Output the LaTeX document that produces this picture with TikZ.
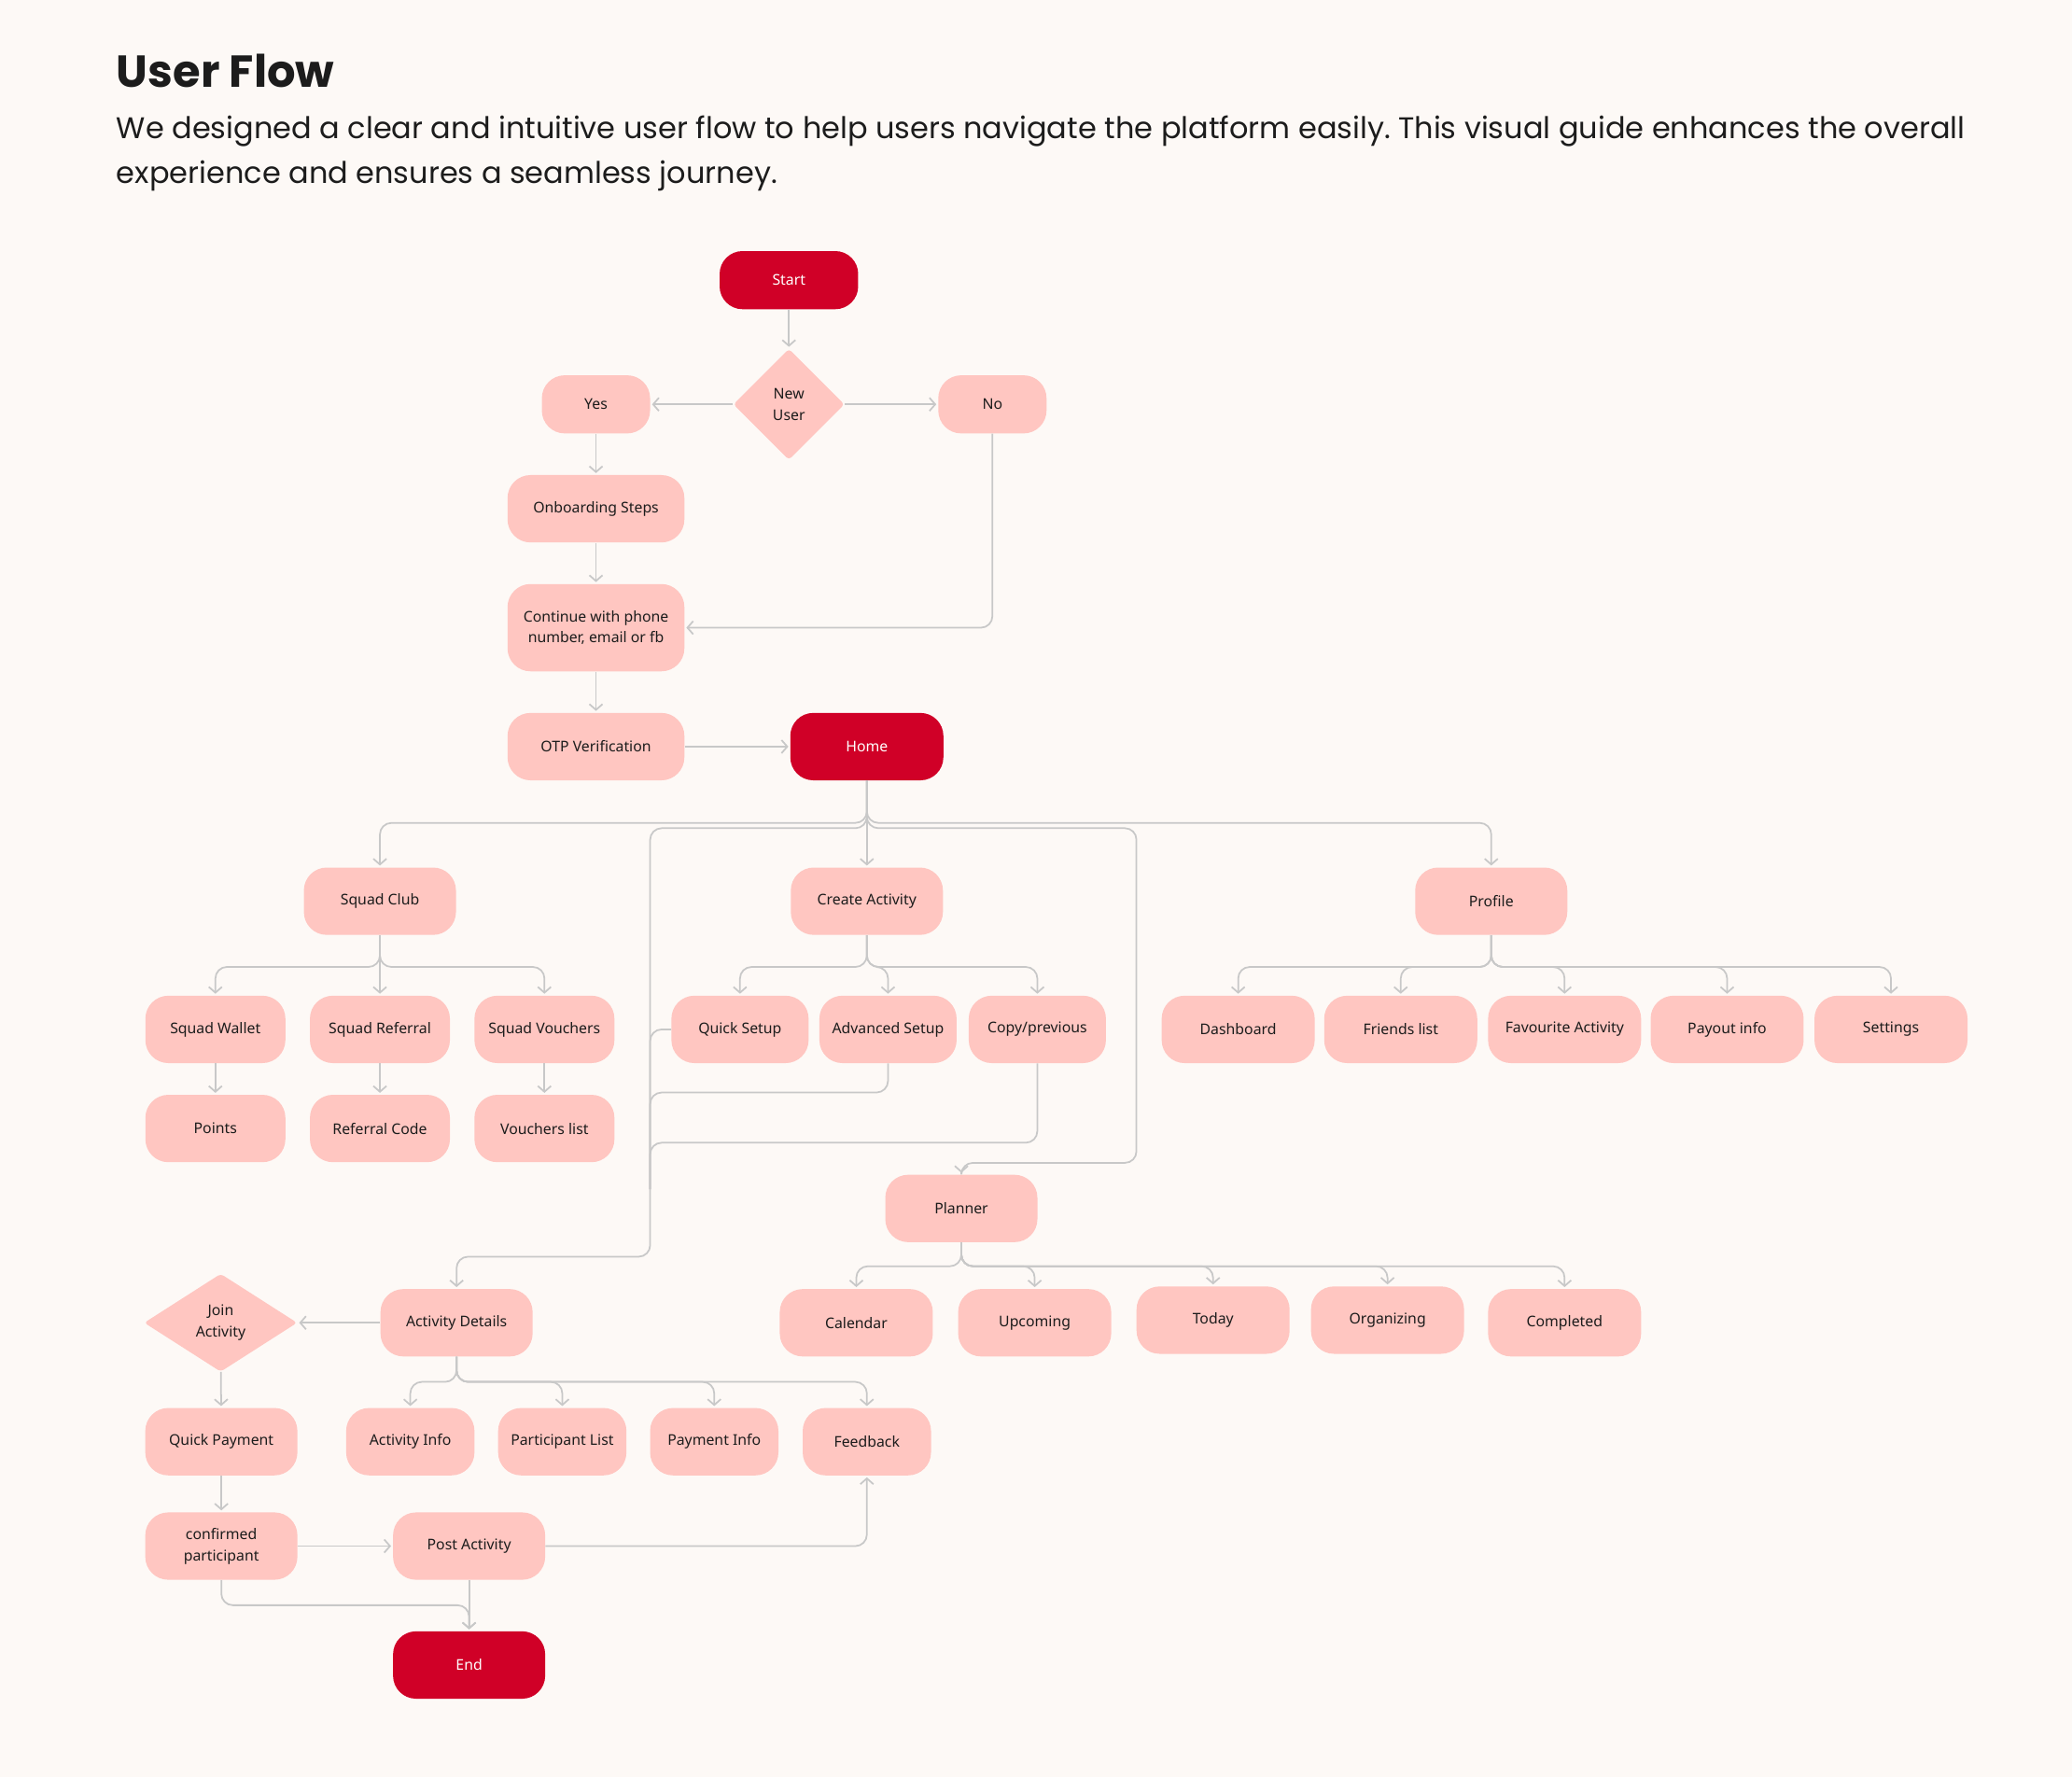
\documentclass[tikz,border=0pt]{standalone}
\usepackage{fontspec}
\setsansfont{Noto Sans}
\newfontfamily\headfont{Poppins}
\usetikzlibrary{shapes.geometric, arrows.meta, positioning}

\definecolor{bgcream}{HTML}{FDF9F6}
\definecolor{flowred}{HTML}{D00027}
\definecolor{flowpink}{HTML}{FFC6C1}
\definecolor{flowline}{HTML}{C8C8C8}
\definecolor{flowtext}{HTML}{1C1C1C}

\tikzset{
  stepnode/.style={rectangle, rounded corners=14pt, fill=flowpink, text=flowtext,
    font=\sffamily\fontsize{9}{13}\selectfont, minimum width=3.26cm,
    minimum height=1.444cm, inner sep=2pt, align=center},
  keynode/.style={stepnode, fill=flowred, text=white},
  choice/.style={diamond, rounded corners=2pt, fill=flowpink, text=flowtext,
    font=\sffamily\fontsize{9}{13}\selectfont, inner sep=0pt, align=center},
  plain/.style={draw=flowline, line width=1pt, rounded corners=7pt},
  link/.style={plain, -{Straight Barb[length=3.5pt,width=8pt]}, shorten >=1pt}
}

\begin{document}
\frenchspacing
\begin{tikzpicture}[x=0.028316cm, y=-0.028316cm]
    \fill[bgcream] (0,0) rectangle (1568,1345);

    % heading
    \node[anchor=base west, inner sep=0, text=flowtext, font=\headfont\bfseries\fontsize{27.3}{30}\selectfont]
        (title) at (88,66) {User Flow};
    \node[anchor=base west, inner sep=0, text=flowtext, font=\headfont\fontsize{18.2}{20}\selectfont]
        (intro1) at (88,105) {We designed a clear and intuitive user flow to help users navigate the platform easily. This visual guide enhances the overall};
    \node[anchor=base west, inner sep=0, text=flowtext, font=\headfont\fontsize{18.2}{20}\selectfont]
        (intro2) at (88,139) {experience and ensures a seamless journey.};

    % sign in
    \node[keynode, minimum width=2.97cm, minimum height=1.246cm] (start) at (597,212) {Start};
    \node[choice, minimum width=2.38cm, minimum height=2.38cm] (newuser) at (597,306) {New\\User};
    \node[stepnode, minimum width=2.32cm, minimum height=1.246cm] (yes) at (451,306) {Yes};
    \node[stepnode, minimum width=2.32cm, minimum height=1.246cm] (no) at (751,306) {No};
    \node[stepnode, minimum width=3.79cm] (onboard) at (451,385) {Onboarding Steps};
    \node[stepnode, minimum width=3.79cm, minimum height=1.87cm] (login) at (451,475) {Continue with phone\\number, email or fb};
    \node[stepnode, minimum width=3.79cm] (otp) at (451,565) {OTP Verification};
    \node[keynode, minimum width=3.28cm] (home) at (656,565) {Home};

    \draw[link] (start) -- (newuser);
    \draw[link] (newuser) -- (yes);
    \draw[link] (newuser) -- (no);
    \draw[link] (yes) -- (onboard);
    \draw[link] (onboard) -- (login);
    \draw[link] (login) -- (otp);
    \draw[link] (no.south) |- (login.east);
    \draw[link] (otp) -- (home);

    % main sections
    \node[stepnode] (squad) at (287.5,682) {Squad Club};
    \node[stepnode] (create) at (656,682) {Create Activity};
    \node[stepnode] (profile) at (1128.5,682) {Profile};
    \foreach \c in {squad,profile}
        \draw[link] (home.south) -- ++(0,32) -| (\c.north);
    \draw[link] (home) -- (create);

    % squad club
    \foreach \n/\x/\t/\s/\u in {wallet/163/Squad Wallet/points/Points,
        referral/287.5/Squad Referral/refcode/Referral Code,
        vouchers/412/Squad Vouchers/vlist/Vouchers list} {
        \node[stepnode, minimum width=3cm] (\n) at (\x,779) {\t};
        \node[stepnode, minimum width=3cm] (\s) at (\x,854) {\u};
        \draw[link] (\n) -- (\s);
    }
    \foreach \c in {wallet,vouchers}
        \draw[link] (squad.south) -- ++(0,24) -| (\c.north);
    \draw[link] (squad) -- (referral);

    % create activity
    \foreach \n/\x/\t in {quick/560/Quick Setup, advanced/672/Advanced Setup, copyprev/785/{Copy/previous}} {
        \node[stepnode, minimum width=2.94cm] (\n) at (\x,779) {\t};
        \draw[link] (create.south) -- ++(0,24) -| (\n.north);
    }

    % profile
    \foreach \n/\x/\t in {dashboard/937/Dashboard, friends/1060/Friends list,
        favourite/1184/Favourite Activity, payout/1307/Payout info, settings/1431/Settings} {
        \node[stepnode, minimum width=3.28cm] (\n) at (\x,779) {\t};
        \draw[link] (profile.south) -- ++(0,24) -| (\n.north);
    }

    % planner
    \node[stepnode] (planner) at (727.5,914.5) {Planner};
    \coordinate (rturn) at (860,880);
    \draw[link] (home.south) -- ++(0,36) -| (rturn) -| (planner.north);
    \foreach \n/\x/\y/\t in {calendar/648/1001/Calendar, upcoming/783/1001/Upcoming,
        today/918/999/Today, organizing/1050/999/Organizing, completed/1184/1001/Completed} {
        \node[stepnode, minimum width=3.28cm] (\n) at (\x,\y) {\t};
        \draw[link] (planner.south) -- ++(0,18) -| (\n.north);
    }

    % activity details
    \node[stepnode] (details) at (345.5,1001) {Activity Details};
    \coordinate (lbus) at (492,900);
    \coordinate (lturn) at (492,951);
    \draw[link] (home.south) -- ++(0,36) -| (lturn) -| (details.north);
    \draw[plain] (quick.west) -| (lbus);
    \draw[plain] (advanced.south) -- ++(0,22) -| (lbus);
    \draw[plain] (copyprev.south) -- ++(0,60) -| (lbus);
    \foreach \n/\x/\t in {actinfo/310.5/Activity Info, partlist/425.5/Participant List,
        payinfo/540.5/Payment Info, feedback/656/Feedback} {
        \node[stepnode, minimum width=2.75cm] (\n) at (\x,1091) {\t};
        \draw[link] (details.south) -- ++(0,19) -| (\n.north);
    }

    % joining
    \node[choice, minimum width=3.28cm, minimum height=2.1cm] (join) at (167,1001) {Join\\Activity};
    \node[stepnode] (quickpay) at (167.5,1091) {Quick Payment};
    \node[stepnode] (confirmed) at (167.5,1170) {confirmed\\participant};
    \node[stepnode] (post) at (355,1170) {Post Activity};
    \node[keynode] (end) at (355,1260) {End};

    \draw[link] (details) -- (join);
    \draw[link] (join) -- (quickpay);
    \draw[link] (quickpay) -- (confirmed);
    \draw[link] (confirmed) -- (post);
    \draw[link] (post.east) -| (feedback.south);
    \draw[link] (post) -- (end);
    \draw[link] (confirmed.south) -- ++(0,19) -| (end.north);
\end{tikzpicture}
\end{document}
